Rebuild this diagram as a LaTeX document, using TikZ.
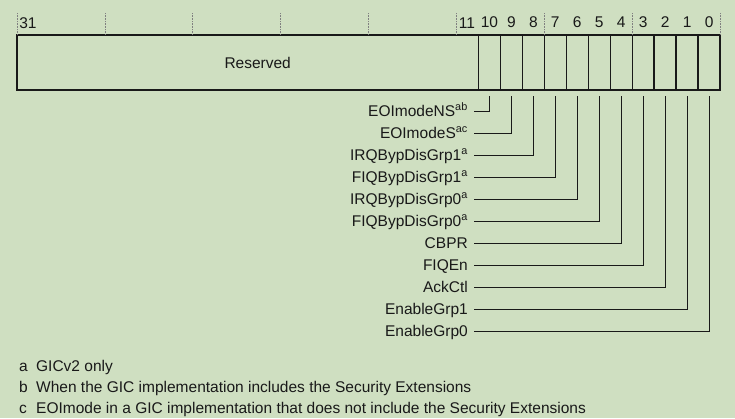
\documentclass[tikz,border=0pt]{standalone}
\usepackage{fontspec}
\setmainfont{Liberation Sans}
\usetikzlibrary{positioning}
\usepackage{xcolor}
\definecolor{bgGreen}{RGB}{207,223,193}
\definecolor{inkDark}{RGB}{25,25,25}

\begin{document}
\begin{tikzpicture}[
    x=1pt, y=-1pt,
    field/.style={rectangle, draw=inkDark, line width=1.4pt, minimum height=55pt, inner sep=0pt, outer sep=0pt, anchor=north west, font=\fontsize{15.5}{18}\selectfont, text=inkDark},
    bitcell/.style={field, minimum width=21.97pt},
    bitnum/.style={font=\fontsize{15.5}{18}\selectfont, text=inkDark, inner sep=0pt},
    flag/.style={anchor=east, inner xsep=6pt, inner ysep=0pt, text height=10pt, text depth=0pt, font=\fontsize{15.5}{18}\selectfont, text=inkDark},
    note/.style={anchor=west, inner sep=0pt, text height=10pt, text depth=0pt, font=\fontsize{15.5}{18}\selectfont, text=inkDark},
    lead/.style={draw=inkDark, line width=0.8pt},
    ruler/.style={draw=gray, densely dotted, line width=0.6pt}
]
    \path[fill=bgGreen, use as bounding box] (0,0) rectangle (735,418);

    % register fields
    \node[field, minimum width=461.4pt] (reserved) at (17,35) {\hspace*{20pt}Reserved};
    \node[bitcell, right=0pt of reserved] (b10) {};
    \node[bitcell, right=0pt of b10] (b9) {};
    \node[bitcell, right=0pt of b9] (b8) {};
    \node[bitcell, right=0pt of b8] (b7) {};
    \node[bitcell, right=0pt of b7] (b6) {};
    \node[bitcell, right=0pt of b6] (b5) {};
    \node[bitcell, right=0pt of b5] (b4) {};
    \node[bitcell, right=0pt of b4] (b3) {};
    \node[bitcell, right=0pt of b3] (b2) {};
    \node[bitcell, right=0pt of b2] (b1) {};
    \node[bitcell, right=0pt of b1] (b0) {};

    % bit numbers
    \foreach \k in {0,...,8}
        \draw[ruler] ({17+87.88*\k},13) -- ++(0,22);
    \node[bitnum] (n31) at (28,23) {31};
    \node[bitnum] (n11) at (467,23) {11};
    \foreach \b in {10,...,0}
        \node[bitnum, above=7pt of b\b] (n\b) {\b};

    % field names
    \node[flag] (eoins) at (474,111) {EOImodeNS\textsuperscript{ab}};
    \node[flag] (eois) at (474,133) {EOImodeS\textsuperscript{ac}};
    \node[flag] (irq1) at (474,155) {IRQBypDisGrp1\textsuperscript{a}};
    \node[flag] (fiq1) at (474,177) {FIQBypDisGrp1\textsuperscript{a}};
    \node[flag] (irq0) at (474,199) {IRQBypDisGrp0\textsuperscript{a}};
    \node[flag] (fiq0) at (474,221) {FIQBypDisGrp0\textsuperscript{a}};
    \node[flag] (cbpr) at (474,243) {CBPR};
    \node[flag] (fiqen) at (474,265) {FIQEn};
    \node[flag] (ackctl) at (474,287) {AckCtl};
    \node[flag] (en1) at (474,309) {EnableGrp1};
    \node[flag] (en0) at (474,331) {EnableGrp0};

    \draw[lead] ([yshift=-6pt]b10.south) |- (eoins.east);
    \draw[lead] ([yshift=-6pt]b9.south) |- (eois.east);
    \draw[lead] ([yshift=-6pt]b8.south) |- (irq1.east);
    \draw[lead] ([yshift=-6pt]b7.south) |- (fiq1.east);
    \draw[lead] ([yshift=-6pt]b6.south) |- (irq0.east);
    \draw[lead] ([yshift=-6pt]b5.south) |- (fiq0.east);
    \draw[lead] ([yshift=-6pt]b4.south) |- (cbpr.east);
    \draw[lead] ([yshift=-6pt]b3.south) |- (fiqen.east);
    \draw[lead] ([yshift=-6pt]b2.south) |- (ackctl.east);
    \draw[lead] ([yshift=-6pt]b1.south) |- (en1.east);
    \draw[lead] ([yshift=-6pt]b0.south) |- (en0.east);

    % footnotes
    \node[note] (fna) at (19,366) {\makebox[17pt][l]{a}GICv2 only};
    \node[note] (fnb) at (19,387) {\makebox[17pt][l]{b}When the GIC implementation includes the Security Extensions};
    \node[note] (fnc) at (19,408) {\makebox[17pt][l]{c}EOImode in a GIC implementation that does not include the Security Extensions};
\end{tikzpicture}
\end{document}
